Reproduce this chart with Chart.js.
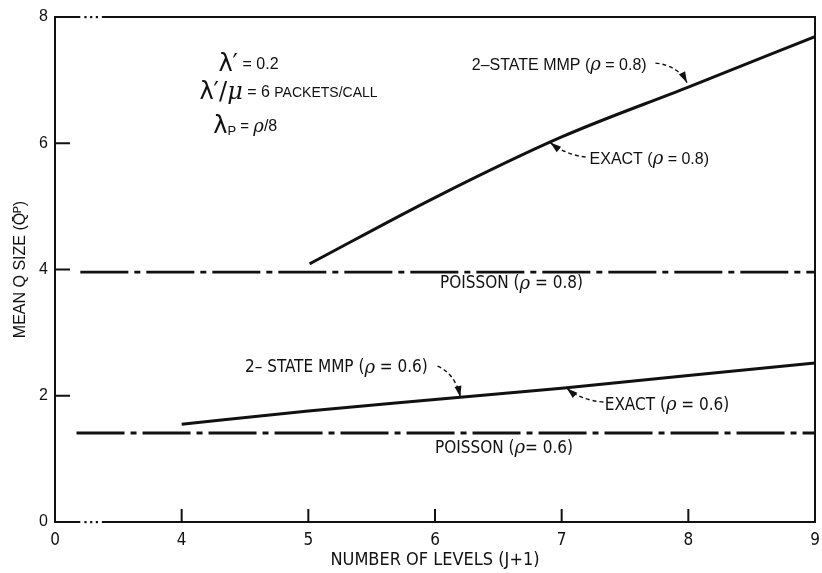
<!DOCTYPE html>
<html lang="en">
<head>
<meta charset="UTF-8">
<title>Mean Q size vs number of levels</title>
<script src="https://cdn.jsdelivr.net/npm/chart.js"></script>
<style>
  html, body { margin: 0; padding: 0; background: #fff; }
  .wrap { width: 822px; height: 573px; }
</style>
</head>
<body>
<div class="wrap"><canvas id="qChart" width="822" height="573"></canvas></div>
<script>
// x axis is broken: "0" sits one step left of 4, so value 3 carries the label 0
const xTicks = [3, 4, 5, 6, 7, 8, 9];
const xTickLabels = ['0', '4', '5', '6', '7', '8', '9'];
const yTicks = [0, 2, 4, 6, 8];

// 2-state MMP and exact results lie on the same curve
const mmp08X = [5.01, 6, 7, 8, 9];
const mmp08Y = [4.09, 5.14, 6.10, 6.89, 7.69];
const mmp06X = [4, 5, 6, 7, 8, 9];
const mmp06Y = [1.55, 1.76, 1.94, 2.12, 2.32, 2.52];
const poisson08X = [3.2, 9];
const poisson08Y = [3.96, 3.96];
const poisson06X = [3.17, 9];
const poisson06Y = [1.41, 1.41];

const ink = '#111';
const sans = '"Liberation Sans", Arial, sans-serif';
const narrow = '"Liberation Sans Narrow", "DejaVu Sans Condensed", "Liberation Sans", sans-serif';
const rho = 'italic 18px "DejaVu Serif"';

function pts(xs, ys) {
    return xs.map((x, i) => ({ x: x, y: ys[i] }));
}

// text notes, placed in data units (x, y = left edge, middle)
const notes = [
    { x: 4.29, y: 7.24, parts: [['λ′', '24px "DejaVu Sans"'], [' = 0.2', '16px ' + sans]] },
    { x: 4.14, y: 6.80, parts: [['λ′/', '24px "DejaVu Sans"'], ['μ', 'italic 24px "DejaVu Serif"'], [' = 6 ', '16px ' + sans], ['PACKETS/CALL', '14px ' + sans]] },
    { x: 4.25, y: 6.26, parts: [['λ', '24px "DejaVu Sans"'], ['P', '13px ' + sans, 5], [' = ', '15px ' + sans], ['ρ', rho], ['/8', '16px ' + sans]] },
    { x: 6.29, y: 7.23, parts: [['2–STATE MMP (', '16px ' + sans], ['ρ', rho], [' = 0.8)', '16px ' + sans]] },
    { x: 7.22, y: 5.74, parts: [['EXACT (', '16px ' + sans], ['ρ', rho], [' = 0.8)', '16px ' + sans]] },
    { x: 6.04, y: 3.77, parts: [['POISSON (', '17px ' + narrow], ['ρ', rho], [' = 0.8)', '17px ' + narrow]] },
    { x: 4.50, y: 2.44, parts: [['2– STATE MMP (', '17px ' + narrow], ['ρ', rho], [' = 0.6)', '17px ' + narrow]] },
    { x: 7.34, y: 1.85, parts: [['EXACT (', '17px ' + narrow], ['ρ', rho], [' = 0.6)', '17px ' + narrow]] },
    { x: 6.00, y: 1.16, parts: [['POISSON (', '17px ' + narrow], ['ρ', rho], ['= 0.6)', '17px ' + narrow]] }
];

// dashed pointer arrows: from, bend, tip (data units)
const arrows = [
    [[7.74, 7.27], [7.92, 7.23], [7.99, 6.96]],
    [[7.19, 5.78], [7.03, 5.82], [6.91, 6.01]],
    [[6.02, 2.47], [6.16, 2.35], [6.20, 1.98]],
    [[7.33, 1.90], [7.15, 1.93], [7.04, 2.12]]
];

const extrasPlugin = {
    id: 'extras',
    afterDraw(chart) {
        const ctx = chart.ctx;
        const a = chart.chartArea;
        const xs = chart.scales.x, ys = chart.scales.y;
        const px = v => xs.getPixelForValue(v);
        const py = v => ys.getPixelForValue(v);
        ctx.save();
        ctx.strokeStyle = ink;
        ctx.fillStyle = ink;
        ctx.lineWidth = 2;
        ctx.lineCap = 'butt';

        // frame with the break just after the origin, on top and bottom
        const brk1 = px(3.2), brk2 = px(3.37);
        ctx.beginPath();
        ctx.moveTo(a.left, a.top - 1); ctx.lineTo(a.left, a.bottom + 1);
        ctx.moveTo(a.right, a.top - 1); ctx.lineTo(a.right, a.bottom + 1);
        [a.top, a.bottom].forEach(yy => {
            ctx.moveTo(a.left, yy); ctx.lineTo(brk1, yy);
            ctx.moveTo(brk2, yy); ctx.lineTo(a.right, yy);
        });
        ctx.stroke();
        [a.top, a.bottom].forEach(yy => {
            [3.24, 3.285, 3.33].forEach(v => ctx.fillRect(px(v) - 1, yy - 1, 2.2, 2.2));
        });

        // inward tick marks
        ctx.beginPath();
        xTicks.slice(1, -1).forEach(v => {
            ctx.moveTo(px(v), a.bottom); ctx.lineTo(px(v), a.bottom - 13);
        });
        yTicks.slice(1, -1).forEach(v => {
            ctx.moveTo(a.left, py(v)); ctx.lineTo(a.left + 15, py(v));
        });
        ctx.stroke();

        // notes
        ctx.textBaseline = 'middle';
        ctx.textAlign = 'left';
        notes.forEach(n => {
            let cx = px(n.x);
            const cy = py(n.y);
            n.parts.forEach(p => {
                ctx.font = p[1];
                ctx.fillText(p[0], cx, cy + (p[2] || 0));
                cx += ctx.measureText(p[0]).width;
            });
        });

        // arrows
        ctx.lineWidth = 1.4;
        arrows.forEach(ar => {
            const p0 = [px(ar[0][0]), py(ar[0][1])];
            const c = [px(ar[1][0]), py(ar[1][1])];
            const p1 = [px(ar[2][0]), py(ar[2][1])];
            ctx.setLineDash([4, 3]);
            ctx.beginPath();
            ctx.moveTo(p0[0], p0[1]);
            ctx.quadraticCurveTo(c[0], c[1], p1[0], p1[1]);
            ctx.stroke();
            ctx.setLineDash([]);
            const ang = Math.atan2(p1[1] - c[1], p1[0] - c[0]);
            const len = 11, half = 3.5;
            ctx.beginPath();
            ctx.moveTo(p1[0], p1[1]);
            ctx.lineTo(p1[0] - len * Math.cos(ang) + half * Math.sin(ang), p1[1] - len * Math.sin(ang) - half * Math.cos(ang));
            ctx.lineTo(p1[0] - len * Math.cos(ang) - half * Math.sin(ang), p1[1] - len * Math.sin(ang) + half * Math.cos(ang));
            ctx.closePath();
            ctx.fill();
        });
        ctx.restore();
    }
};

const curveStyle = {
    borderColor: ink,
    borderWidth: 3,
    pointRadius: 0,
    fill: false,
    cubicInterpolationMode: 'monotone'
};
const poissonStyle = {
    borderColor: ink,
    borderWidth: 2.8,
    pointRadius: 0,
    fill: false,
    borderDash: [48, 6, 6, 6]
};

new Chart(document.getElementById('qChart'), {
    type: 'line',
    data: {
        datasets: [
            Object.assign({ label: '2-STATE MMP / EXACT (ρ = 0.8)', data: pts(mmp08X, mmp08Y) }, curveStyle),
            Object.assign({ label: '2-STATE MMP / EXACT (ρ = 0.6)', data: pts(mmp06X, mmp06Y) }, curveStyle),
            Object.assign({ label: 'POISSON (ρ = 0.8)', data: pts(poisson08X, poisson08Y) }, poissonStyle),
            Object.assign({ label: 'POISSON (ρ = 0.6)', data: pts(poisson06X, poisson06Y) }, poissonStyle)
        ]
    },
    options: {
        responsive: false,
        animation: false,
        layout: { padding: { top: 17, right: 7, left: 0, bottom: 0 } },
        plugins: { legend: { display: false }, tooltip: { enabled: false } },
        scales: {
            x: {
                type: 'linear',
                min: 3,
                max: 9,
                afterBuildTicks: s => { s.ticks = xTicks.map(v => ({ value: v })); },
                afterFit: s => { s.height = 51; s.paddingLeft = 0; s.paddingRight = 0; },
                grid: { display: false, drawTicks: false },
                border: { display: false },
                ticks: {
                    padding: 8,
                    color: ink,
                    font: { family: narrow, size: 17 },
                    callback: v => xTickLabels[xTicks.indexOf(v)]
                },
                title: {
                    display: true,
                    text: 'NUMBER OF LEVELS (J+1)',
                    color: ink,
                    font: { family: narrow, size: 18 },
                    padding: { top: 0, bottom: 2 }
                }
            },
            y: {
                type: 'linear',
                min: 0,
                max: 8,
                afterBuildTicks: s => { s.ticks = yTicks.map(v => ({ value: v })); },
                afterFit: s => { s.width = 55; s.paddingTop = 0; s.paddingBottom = 0; },
                grid: { display: false, drawTicks: false },
                border: { display: false },
                ticks: {
                    padding: 7,
                    color: ink,
                    font: { family: sans, size: 16 }
                },
                title: {
                    display: true,
                    text: 'MEAN Q SIZE (Q\u0304\u1D3E)',
                    color: ink,
                    font: { family: sans, size: 16 },
                    padding: { top: 11, bottom: 0 }
                }
            }
        }
    },
    plugins: [extrasPlugin]
});
</script>
</body>
</html>
